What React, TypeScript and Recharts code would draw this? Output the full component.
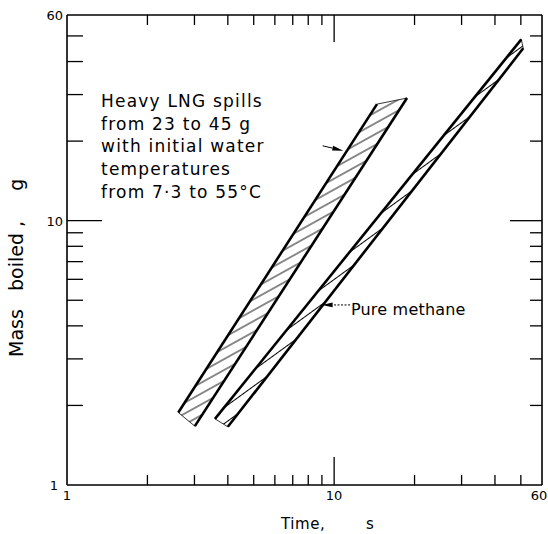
import React from 'react';
import { ComposedChart, XAxis, YAxis, Line, Area, ReferenceLine, ReferenceDot, Label } from 'recharts';

// ---- data ----
const xTicks = [1, 2, 3, 4, 5, 6, 7, 8, 9, 10, 20, 30, 40, 50, 60];
const yTicks = [1, 2, 3, 4, 5, 6, 7, 8, 9, 10, 20, 30, 40, 50, 60];
const xTickLabels = [1, 10, 60];
const yTickLabels = [1, 10, 60];
const axisMin = 1;
const axisMax = 60;

// Heavy LNG band: upper (left) edge and lower (right) edge, end points
const heavyUpperX = [2.61, 14.47];
const heavyUpperY = [1.88, 27.6];
const heavyLowerX = [3.01, 18.74];
const heavyLowerY = [1.67, 29.1];
// Pure methane band
const methaneUpperX = [3.58, 50.2];
const methaneUpperY = [1.78, 48.5];
const methaneLowerX = [4.0, 51.05];
const methaneLowerY = [1.66, 44.9];

const heavyNote = ['Heavy LNG spills', 'from 23 to 45 g', 'with initial water', 'temperatures', 'from 7·3 to 55°C'];
const methaneNote = 'Pure methane';
const heavyNoteAt = { x: 1.341, y: 26.9 };
const methaneNoteAt = { x: 11.56, y: 4.4 };
const heavyArrow = [{ x: 9.06, y: 19.2 }, { x: 10.82, y: 18.4 }];
const methaneArrow = [{ x: 11.47, y: 4.8 }, { x: 8.98, y: 4.8 }];

// ---- helpers building library tables ----
const toPoints = (xs: number[], ys: number[]) => xs.map((x, i) => ({ x, y: ys[i] }));
const logInterp = (xs: number[], ys: number[], x: number) => {
  const lx0 = Math.log10(xs[0]), lx1 = Math.log10(xs[1]);
  const ly0 = Math.log10(ys[0]), ly1 = Math.log10(ys[1]);
  const t = (Math.log10(x) - lx0) / (lx1 - lx0);
  return Math.pow(10, ly0 + t * (ly1 - ly0));
};
const buildBand = (ux: number[], uy: number[], lx: number[], ly: number[]) => [
  { x: ux[0], band: [uy[0], uy[0]] },
  { x: lx[0], band: [ly[0], logInterp(ux, uy, lx[0])] },
  { x: ux[1], band: [logInterp(lx, ly, ux[1]), uy[1]] },
  { x: lx[1], band: [ly[1], ly[1]] },
];

const heavyBand = buildBand(heavyUpperX, heavyUpperY, heavyLowerX, heavyLowerY);
const methaneBand = buildBand(methaneUpperX, methaneUpperY, methaneLowerX, methaneLowerY);

const FONT = '"DejaVu Sans", sans-serif';
const TICK_W = 1.3;

const lenBottom: [number, number] = [10, 28];
const lenTop: [number, number] = [10, 27];
const lenLeft: [number, number] = [16, 35];
const lenRight: [number, number] = [12, 32];
const pick = (l: [number, number], v: number) => (v === 10 ? l[1] : l[0]);

const XTickMarks = (v: number) => (props: any) => {
  const { x1, y1, y2 } = props;
  const top = Math.min(y1, y2), bot = Math.max(y1, y2);
  return (
    <g>
      <line x1={x1} y1={bot} x2={x1} y2={bot - pick(lenBottom, v)} stroke="#000" strokeWidth={TICK_W} />
      <line x1={x1} y1={top} x2={x1} y2={top + pick(lenTop, v)} stroke="#000" strokeWidth={TICK_W} />
    </g>
  );
};
const YTickMarks = (v: number) => (props: any) => {
  const { x1, y1, x2 } = props;
  const left = Math.min(x1, x2), right = Math.max(x1, x2);
  return (
    <g>
      <line x1={left} y1={y1} x2={left + pick(lenLeft, v)} y2={y1} stroke="#000" strokeWidth={TICK_W} />
      <line x1={right} y1={y1} x2={right - pick(lenRight, v)} y2={y1} stroke="#000" strokeWidth={TICK_W} />
    </g>
  );
};

const BottomTick = (props: any) => {
  const { x, y, payload } = props;
  const v = payload.value;
  if (!xTickLabels.includes(v)) return <g />;
  const tx = v === axisMax ? x - 3 : x;
  return (
    <text x={tx} y={y + 15} textAnchor="middle" fontSize={13} fontFamily={FONT} fill="#000">
      {v}
    </text>
  );
};

const LeftTick = (props: any) => {
  const { x, y, payload } = props;
  const v = payload.value;
  if (!yTickLabels.includes(v)) return <g />;
  return (
    <text x={v === 1 ? x - 9 : x - 4} y={y + 5} textAnchor="end" fontSize={13} fontFamily={FONT} fill="#000">
      {v}
    </text>
  );
};

const ArrowShape = (dashed: boolean) => (props: any) => {
  const { x1, y1, x2, y2 } = props;
  const dx = x2 - x1, dy = y2 - y1;
  const L = Math.sqrt(dx * dx + dy * dy) || 1;
  const ux = dx / L, uy = dy / L;
  const hl = 11, hw = 2.4;
  const bx = x2 - ux * hl, by = y2 - uy * hl;
  const pts = `${x2},${y2} ${bx - uy * hw},${by + ux * hw} ${bx + uy * hw},${by - ux * hw}`;
  return (
    <g>
      <line x1={x1} y1={y1} x2={bx} y2={by} stroke="#000" strokeWidth={1} strokeDasharray={dashed ? '2 1.5' : undefined} />
      <polygon points={pts} fill="#000" />
    </g>
  );
};

const HeavyNoteShape = (props: any) => {
  const { cx, cy } = props;
  return (
    <text x={cx} y={cy} fontSize={17} fontFamily={FONT} fill="#000" style={{ letterSpacing: '1.2px' }}>
      {heavyNote.map((t, i) => (
        <tspan key={i} x={cx} y={cy + i * 22.7}>
          {t}
        </tspan>
      ))}
    </text>
  );
};

const MethaneNoteShape = (props: any) => {
  const { cx, cy } = props;
  return (
    <text x={cx} y={cy} fontSize={16} fontFamily={FONT} fill="#000" style={{ letterSpacing: '0.2px' }}>
      {methaneNote}
    </text>
  );
};

const XTitle = (props: any) => {
  const vb = props.viewBox || { x: 67, y: 485 };
  return (
    <g>
      <text x={vb.x + 214} y={vb.y + 44} fontSize={15} fontFamily={FONT} fill="#000" style={{ letterSpacing: '0.6px' }}>
        Time,
      </text>
      <text x={vb.x + 299} y={vb.y + 44} fontSize={15} fontFamily={FONT} fill="#000">
        s
      </text>
    </g>
  );
};

const YTitle = (props: any) => {
  const vb = props.viewBox || { x: 7, y: 15 };
  const bx = vb.x + 16;
  const by = vb.y + 342;
  return (
    <text
      x={bx}
      y={by}
      transform={`rotate(-90 ${bx} ${by})`}
      fontSize={19}
      fontFamily={FONT}
      fill="#000"
      style={{ whiteSpace: 'pre' }}
    >
      {'Mass   boiled ,     g'}
    </text>
  );
};

const innerX = xTicks.filter((v) => v !== axisMin && v !== axisMax);
const innerY = yTicks.filter((v) => v !== axisMin && v !== axisMax);

export default function App() {
  const axisLine = { stroke: '#000', strokeWidth: 1.6 };
  return (
    <div style={{ position: 'absolute', left: 0, top: 0, background: '#fff' }}>
      <ComposedChart width={548} height={534} margin={{ top: 15, right: 6, bottom: 9, left: 7 }}>
        <defs>
          <pattern id="hatchHeavy" width="9.5" height="9.5" patternUnits="userSpaceOnUse" patternTransform="rotate(-29)">
            <line x1="0" y1="4.75" x2="9.5" y2="4.75" stroke="#000" strokeWidth="0.9" />
          </pattern>
          <pattern id="hatchMethane" width="13" height="13" patternUnits="userSpaceOnUse" patternTransform="rotate(-36)">
            <line x1="0" y1="6.5" x2="13" y2="6.5" stroke="#000" strokeWidth="1" />
          </pattern>
        </defs>
        <XAxis
          xAxisId="b"
          dataKey="x"
          type="number"
          scale="log"
          domain={[axisMin, axisMax]}
          allowDataOverflow
          ticks={xTicks}
          interval={0}
          height={40}
          tickSize={0}
          tickMargin={0}
          tickLine={false}
          axisLine={axisLine}
          tick={BottomTick}
        >
          <Label content={XTitle} />
        </XAxis>
        <YAxis
          yAxisId="l"
          type="number"
          scale="log"
          domain={[axisMin, axisMax]}
          allowDataOverflow
          ticks={yTicks}
          interval={0}
          width={60}
          tickSize={0}
          tickMargin={0}
          tickLine={false}
          axisLine={axisLine}
          tick={LeftTick}
        >
          <Label content={YTitle} />
        </YAxis>

        <ReferenceLine xAxisId="b" yAxisId="l" y={axisMax} stroke="#000" strokeWidth={1.6} ifOverflow="visible" />
        <ReferenceLine xAxisId="b" yAxisId="l" x={axisMax} stroke="#000" strokeWidth={1.6} ifOverflow="visible" />
        {innerX.map((v) => (
          <ReferenceLine key={`xt${v}`} xAxisId="b" yAxisId="l" x={v} shape={XTickMarks(v)} ifOverflow="visible" />
        ))}
        {innerY.map((v) => (
          <ReferenceLine key={`yt${v}`} xAxisId="b" yAxisId="l" y={v} shape={YTickMarks(v)} ifOverflow="visible" />
        ))}

        <Area xAxisId="b" yAxisId="l" data={heavyBand} dataKey="band" type="linear" stroke="#000" strokeWidth={0.8} fill="url(#hatchHeavy)" fillOpacity={1} isAnimationActive={false} dot={false} activeDot={false} />
        <Area xAxisId="b" yAxisId="l" data={methaneBand} dataKey="band" type="linear" stroke="#000" strokeWidth={0.8} fill="url(#hatchMethane)" fillOpacity={1} isAnimationActive={false} dot={false} activeDot={false} />
        <Line xAxisId="b" yAxisId="l" data={toPoints(heavyUpperX, heavyUpperY)} dataKey="y" type="linear" stroke="#000" strokeWidth={2.6} dot={false} activeDot={false} isAnimationActive={false} />
        <Line xAxisId="b" yAxisId="l" data={toPoints(heavyLowerX, heavyLowerY)} dataKey="y" type="linear" stroke="#000" strokeWidth={2.6} dot={false} activeDot={false} isAnimationActive={false} />
        <Line xAxisId="b" yAxisId="l" data={toPoints(methaneUpperX, methaneUpperY)} dataKey="y" type="linear" stroke="#000" strokeWidth={2.6} dot={false} activeDot={false} isAnimationActive={false} />
        <Line xAxisId="b" yAxisId="l" data={toPoints(methaneLowerX, methaneLowerY)} dataKey="y" type="linear" stroke="#000" strokeWidth={2.6} dot={false} activeDot={false} isAnimationActive={false} />

        <ReferenceLine xAxisId="b" yAxisId="l" segment={heavyArrow} shape={ArrowShape(false)} ifOverflow="visible" />
        <ReferenceLine xAxisId="b" yAxisId="l" segment={methaneArrow} shape={ArrowShape(true)} ifOverflow="visible" />
        <ReferenceDot xAxisId="b" yAxisId="l" x={heavyNoteAt.x} y={heavyNoteAt.y} r={0} shape={HeavyNoteShape} ifOverflow="visible" />
        <ReferenceDot xAxisId="b" yAxisId="l" x={methaneNoteAt.x} y={methaneNoteAt.y} r={0} shape={MethaneNoteShape} ifOverflow="visible" />
      </ComposedChart>
    </div>
  );
}
